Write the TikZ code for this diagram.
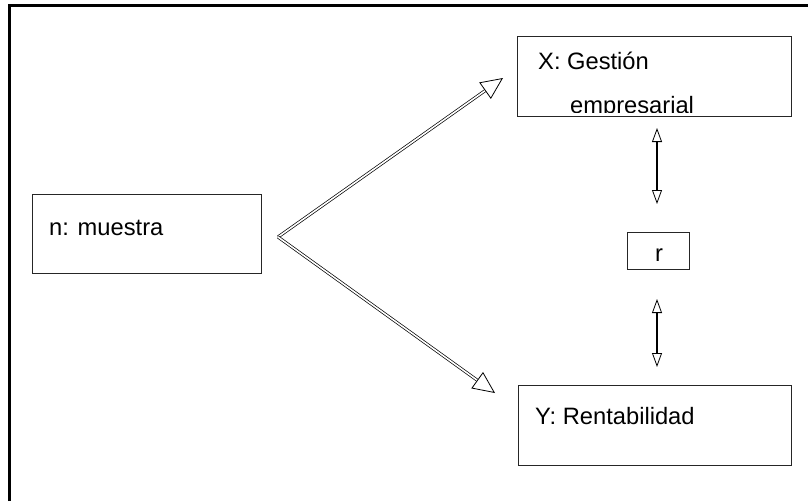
\documentclass[tikz,border=0pt]{standalone}
\usepackage{fontspec}
\setmainfont{Liberation Sans}
\usetikzlibrary{arrows.meta}

\begin{document}
\begin{tikzpicture}[x=1pt, y=-1pt,
  box/.style={draw=black!85, line width=1pt, inner sep=0pt, anchor=north west},
  lbl/.style={font=\fontsize{23.7}{28}\selectfont, inner sep=0pt, anchor=base west},
  flow/.style={draw=black, line width=0.7pt, double=white, double distance=1.6pt,
    -{Triangle[open, length=22pt, width=20pt, line width=0.8pt]}},
  link/.style={line width=1.8pt,
    {Triangle[open, length=14pt, width=10pt, line width=0.8pt]}-{Triangle[open, length=14pt, width=10pt, line width=0.8pt]}}]
  \useasboundingbox (0,0) rectangle (808,501);
  % marco
  \draw[line width=3pt] (9.5,501) -- (9.5,5.5) -- (808,5.5);
  % cajas
  \node[box, minimum width=229pt, minimum height=79pt] (nbox) at (32,194) {};
  \node[box, minimum width=274pt, minimum height=80pt] (xbox) at (517,36) {};
  \node[box, minimum width=273pt, minimum height=80pt] (ybox) at (518,385) {};
  \node[box, minimum width=62pt, minimum height=37pt] (rbox) at (627,232) {};
  % textos
  \node[lbl] (nlbl) at (49,235) {n: muestra};
  \node[lbl] (xlbl) at (538,69) {X: Gestión};
  \begin{scope}
    \clip (517,36) rectangle (791,112);
    \node[lbl] (xlbl2) at (570,113) {empresarial};
  \end{scope}
  \node[lbl] (ylbl) at (535,424) {Y: Rentabilidad};
  \node[lbl] (rlbl) at (655,261) {r};
  % flechas
  \coordinate (fork) at (278,237);
  \coordinate (xtip) at (503,78);
  \coordinate (ytip) at (495,393);
  \draw[flow] (fork) -- (xtip);
  \draw[flow] (fork) -- (ytip);
  \coordinate (xr1) at (657,128);
  \coordinate (xr2) at (657,204);
  \coordinate (yr1) at (657,299);
  \coordinate (yr2) at (657,367);
  \draw[link] (xr1) -- (xr2);
  \draw[link] (yr1) -- (yr2);
\end{tikzpicture}
\end{document}
